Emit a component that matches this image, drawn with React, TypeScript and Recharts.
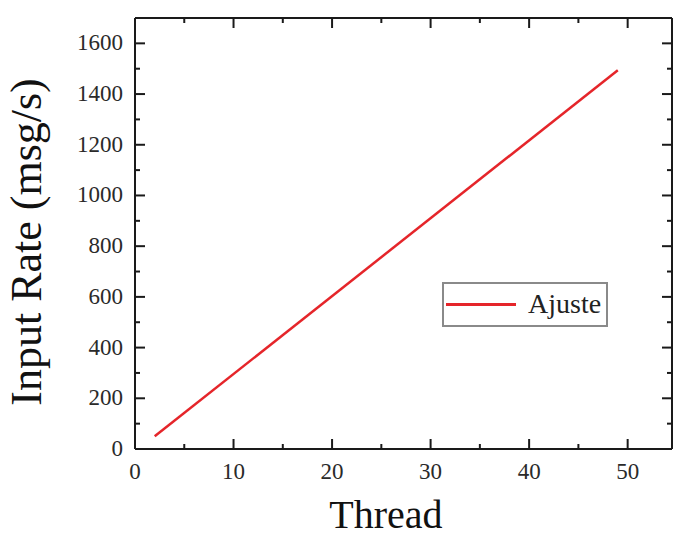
import React from "react";
import { LineChart, Line, XAxis, YAxis, Legend } from "recharts";

// fitted line ("Ajuste")
const threads = [2, 49];
const inputRate = [50, 1494];

const xTicks = [0, 5, 10, 15, 20, 25, 30, 35, 40, 45, 50];
const xLabels = [0, 10, 20, 30, 40, 50];
const yTicks = [0, 100, 200, 300, 400, 500, 600, 700, 800, 900, 1000, 1100, 1200, 1300, 1400, 1500, 1600];
const yLabels = [0, 200, 400, 600, 800, 1000, 1200, 1400, 1600];

const W = 673;
const H = 536;
const LEFT = 135;
const TOP = 18;
const RIGHT = 672;
const BOTTOM = 449;

const AXIS = "#1a1a1a";
const FONT = "'Liberation Serif', 'Times New Roman', serif";
const RED = "#e5252a";

const data = threads.map((t, i) => ({ thread: t, rate: inputRate[i] }));

const BottomTick = (props: any) => {
  const { x, payload } = props;
  const major = xLabels.includes(payload.value);
  return (
    <g>
      <line x1={x} x2={x} y1={BOTTOM} y2={BOTTOM - (major ? 10 : 5)} stroke={AXIS} strokeWidth={2} />
      {major && (
        <text x={x} y={BOTTOM + 30} textAnchor="middle" fontFamily={FONT} fontSize={23} fill="#2a2a2a">
          {payload.value}
        </text>
      )}
    </g>
  );
};

const TopTick = (props: any) => {
  const { x, payload } = props;
  const major = xLabels.includes(payload.value);
  return <line x1={x} x2={x} y1={TOP} y2={TOP + (major ? 10 : 5)} stroke={AXIS} strokeWidth={2} />;
};

const LeftTick = (props: any) => {
  const { y, payload } = props;
  const major = yLabels.includes(payload.value);
  return (
    <g>
      <line x1={LEFT} x2={LEFT + (major ? 10 : 5)} y1={y} y2={y} stroke={AXIS} strokeWidth={2} />
      {major && (
        <text x={123} y={y + 7} textAnchor="end" fontFamily={FONT} fontSize={23} fill="#2a2a2a">
          {payload.value}
        </text>
      )}
    </g>
  );
};

const RightTick = (props: any) => {
  const { y, payload } = props;
  const major = yLabels.includes(payload.value);
  return <line x1={RIGHT} x2={RIGHT - (major ? 10 : 5)} y1={y} y2={y} stroke={AXIS} strokeWidth={2} />;
};

const LegendBox = () => (
  <div
    style={{
      position: "relative",
      width: 162,
      height: 41,
      border: "2px solid #8a8a8a",
      background: "#fff",
      fontFamily: FONT,
    }}
  >
    <div style={{ position: "absolute", left: 2, top: 19, width: 70, height: 2.5, background: RED }} />
    <div style={{ position: "absolute", left: 84, top: 2, fontSize: 28, color: "#222", lineHeight: "36px" }}>
      Ajuste
    </div>
  </div>
);

export default function App() {
  return (
    <div style={{ position: "absolute", left: 0, top: 0, width: W, height: H, background: "#fff" }}>
      <LineChart
        width={W}
        height={H}
        data={data}
        margin={{ top: TOP - 1, right: W - RIGHT - 1, bottom: H - BOTTOM - 1, left: LEFT - 1 }}
      >
        <XAxis
          xAxisId="bottom"
          dataKey="thread"
          type="number"
          domain={[0, 54.5]}
          ticks={xTicks}
          interval={0}
          height={1}
          tickLine={false}
          axisLine={{ stroke: AXIS, strokeWidth: 2 }}
          tick={<BottomTick />}
          label={{
            content: () => (
              <text x={386} y={528} textAnchor="middle" fontFamily={FONT} fontSize={40} fill="#111">
                Thread
              </text>
            ),
          }}
        />
        <XAxis
          xAxisId="top"
          orientation="top"
          dataKey="thread"
          type="number"
          domain={[0, 54.5]}
          ticks={xTicks}
          interval={0}
          height={1}
          tickLine={false}
          axisLine={{ stroke: AXIS, strokeWidth: 2 }}
          tick={<TopTick />}
        />
        <YAxis
          yAxisId="left"
          type="number"
          domain={[0, 1700]}
          ticks={yTicks}
          interval={0}
          width={1}
          tickLine={false}
          axisLine={{ stroke: AXIS, strokeWidth: 2 }}
          tick={<LeftTick />}
          label={{
            content: () => (
              <text
                x={41}
                y={242}
                transform="rotate(-90 41 242)"
                textAnchor="middle"
                fontFamily={FONT}
                fontSize={44}
                fill="#111"
              >
                Input Rate (msg/s)
              </text>
            ),
          }}
        />
        <YAxis
          yAxisId="right"
          orientation="right"
          type="number"
          domain={[0, 1700]}
          ticks={yTicks}
          interval={0}
          width={1}
          tickLine={false}
          axisLine={{ stroke: AXIS, strokeWidth: 2 }}
          tick={<RightTick />}
        />
        <Legend
          layout="horizontal"
          verticalAlign="middle"
          align="center"
          content={() => <LegendBox />}
          wrapperStyle={{ left: 442, top: 282, width: "auto", height: "auto" }}
        />
        <Line
          xAxisId="top"
          yAxisId="right"
          dataKey="rate"
          stroke="none"
          dot={false}
          legendType="none"
          isAnimationActive={false}
        />
        <Line
          xAxisId="bottom"
          yAxisId="left"
          dataKey="rate"
          name="Ajuste"
          stroke={RED}
          strokeWidth={2.5}
          dot={false}
          isAnimationActive={false}
        />
      </LineChart>
    </div>
  );
}
